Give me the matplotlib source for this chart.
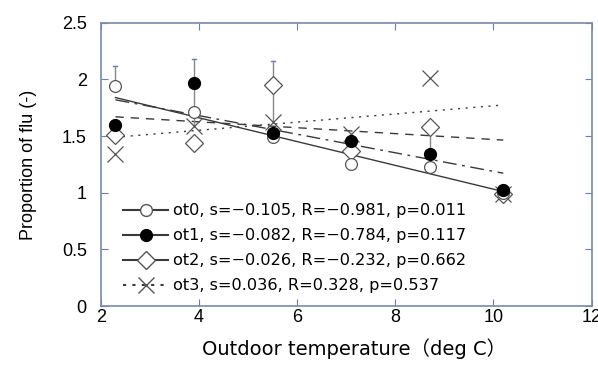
import matplotlib.pyplot as plt
from matplotlib.lines import Line2D

plt.rcParams['font.family'] = ['DejaVu Sans', 'Noto Sans CJK JP']

# outdoor temperature per group
temp = [2.3, 3.9, 5.5, 7.1, 8.7, 10.2]

ot0 = [1.94, 1.71, 1.49, 1.25, 1.23, 1.00]
ot1 = [1.60, 1.97, 1.53, 1.46, 1.34, 1.02]
ot2 = [1.51, 1.44, 1.95, 1.37, 1.58, 0.99]
ot3 = [1.34, 1.59, 1.62, 1.52, 2.01, 0.99]

# vertical bars per group (low, high)
bar_lo = [1.94, 1.59, 1.62, 1.26, 1.23, 1.00]
bar_hi = [2.12, 2.18, 2.16, 1.46, 1.58, 1.07]

# regression lines: slope and value at first temperature
slopes = [-0.105, -0.082, -0.026, 0.036]
start = [1.84, 1.82, 1.67, 1.49]
labels = ['ot0, s=−0.105, R=−0.981, p=0.011',
          'ot1, s=−0.082, R=−0.784, p=0.117',
          'ot2, s=−0.026, R=−0.232, p=0.662',
          'ot3, s=0.036, R=0.328, p=0.537']

fig = plt.figure(figsize=(5.98, 3.67), dpi=100)
ax = fig.add_axes([0.1684, 0.166, 0.821, 0.772])

col = '#3a3a3a'
styles = ['-', (0, (10, 4, 2, 4)), (0, (6, 5)), (0, (1.5, 4))]
x0, x1 = temp[0], temp[-1]
for s, b, ls in zip(slopes, start, styles):
    ax.plot([x0, x1], [b, b + s * (x1 - x0)], color=col, lw=1.0, ls=ls)

for x, lo, hi in zip(temp, bar_lo, bar_hi):
    ax.plot([x, x], [lo, hi], color='#888888', lw=1.0)
    ax.plot([x - 0.04, x + 0.04], [hi, hi], color='#6a7fb0', lw=1.0)

ax.plot(temp, ot3, ls='none', marker='x', ms=11, mew=0.9, color='#555555')
ax.plot(temp, ot2, ls='none', marker='D', ms=9.5, mew=0.9, mfc='white', color='#555555')
ax.plot(temp, ot0, ls='none', marker='o', ms=8.5, mew=0.9, mfc='white', color='#555555')
ax.plot(temp, ot1, ls='none', marker='o', ms=8.5, color='black')

handles = [
    Line2D([], [], color=col, ls='-', marker='o', ms=8.5, mfc='white', mec='#555555'),
    Line2D([], [], color=col, ls='-', marker='o', ms=8.5, mfc='black', mec='black'),
    Line2D([], [], color=col, ls='-', marker='D', ms=9, mfc='white', mec='#555555'),
    Line2D([], [], color=col, ls=(0, (1.5, 3)), marker='x', ms=11, mec='#555555'),
]
ax.legend(handles, labels, loc='lower left', bbox_to_anchor=(0.02, 0.0),
          frameon=False, fontsize=11.6, handlelength=2.75, handletextpad=0.35,
          labelspacing=0.62, borderpad=0.3)

ax.set_xlim(2, 12)
ax.set_ylim(0, 2.5)
ax.set_xticks([2, 4, 6, 8, 10, 12])
ax.set_yticks([0, 0.5, 1, 1.5, 2, 2.5])
ax.set_yticklabels(['0', '0.5', '1', '1.5', '2', '2.5'])
ax.tick_params(direction='in', top=True, right=True, length=5, color='#6a7fb0')
ax.tick_params(axis='y', pad=10)
ax.tick_params(axis='x', pad=2)
for lab in ax.get_xticklabels() + ax.get_yticklabels():
    lab.set_family('Liberation Sans')
    lab.set_fontsize(13)
for sp in ax.spines.values():
    sp.set_color('#7a8aa8')
    sp.set_linewidth(1.2)

ax.set_xlabel('Outdoor temperature（deg C）', fontsize=14, labelpad=9, x=0.517)
ax.set_ylabel('Proportion of flu (-)', fontsize=13, family='Liberation Sans',
              labelpad=18)

fig.savefig('out.png', dpi=100)
